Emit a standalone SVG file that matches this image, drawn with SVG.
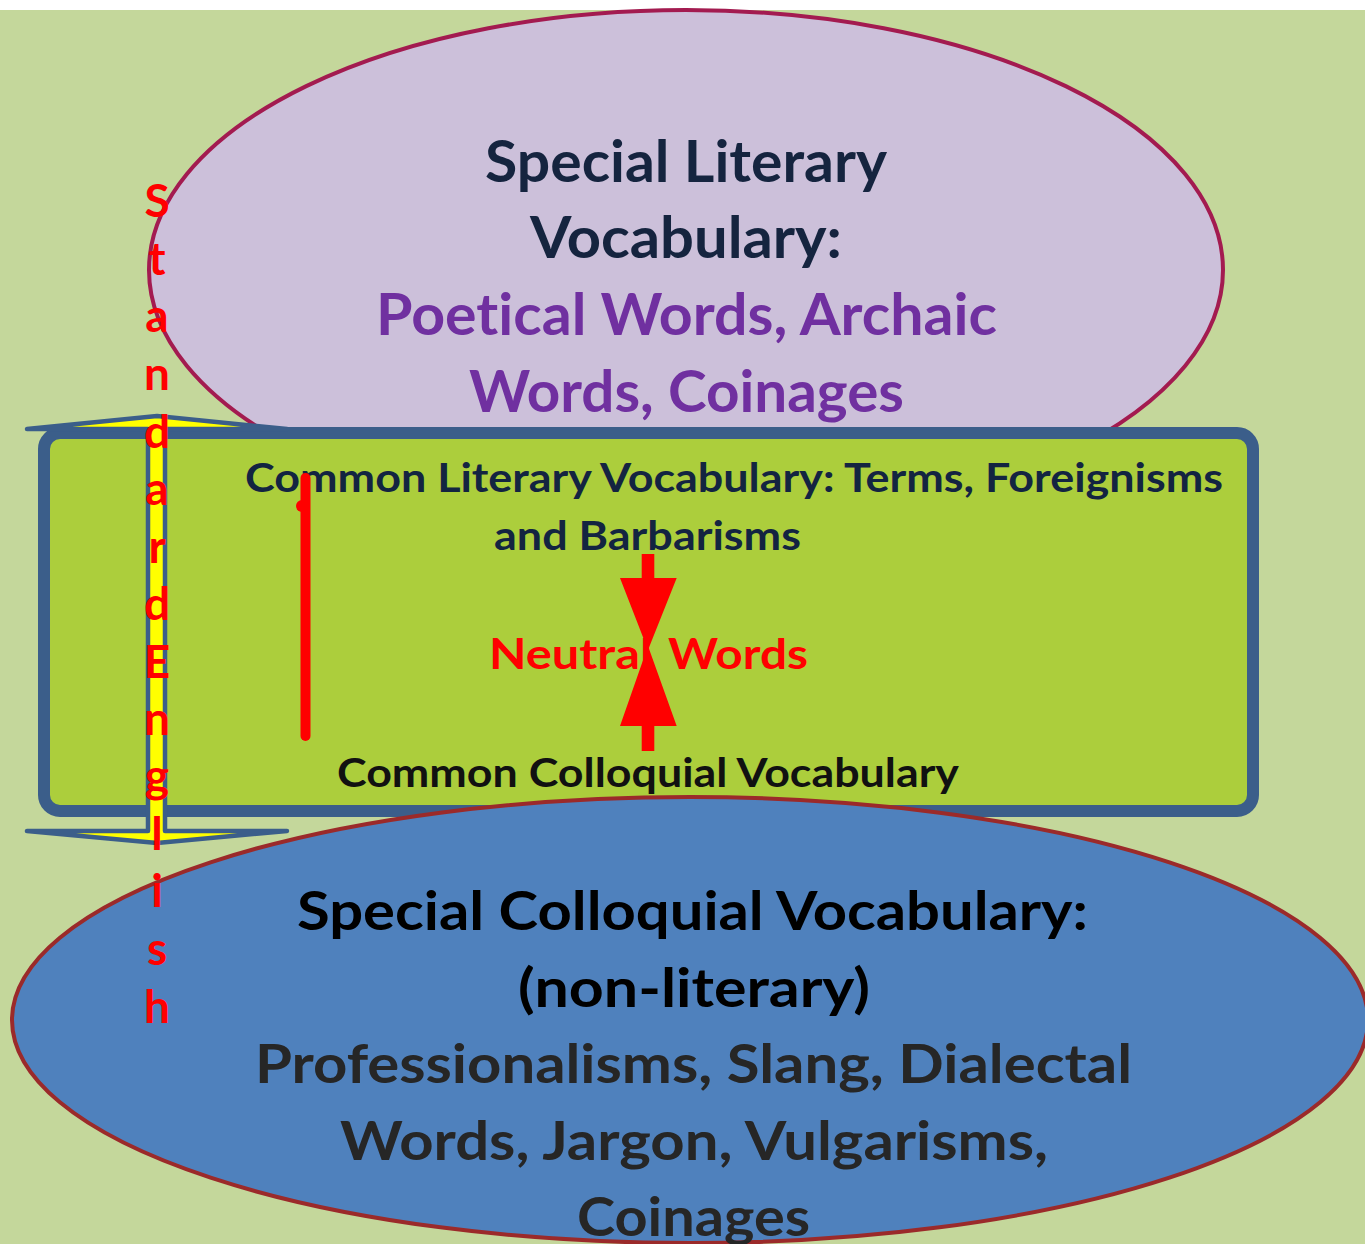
<svg xmlns="http://www.w3.org/2000/svg" width="1365" height="1244" viewBox="0 0 1365 1244">
<style>
text{font-family:Lato,"Open Sans","Liberation Sans",sans-serif;font-weight:700;font-variant-ligatures:none}
.t1{font-size:57px;fill:#15243f}
.t2{font-size:57px;fill:#7030a0}
.r1{font-size:40px;fill:#132441}
.r2{font-size:40px;fill:#111111}
.nw{font-size:42px;fill:#ff0000}
.b1{font-size:54px;fill:#000000}
.b2{font-size:54px;fill:#262626}
.vt{font-size:46px;fill:#ff0000;text-anchor:middle}
</style>
<rect x="0" y="0" width="1365" height="1244" fill="#ffffff"/>
<rect x="0" y="10" width="1365" height="1234" fill="#c4d79b"/>
<g id="special-literary">
<ellipse cx="686" cy="270" rx="537" ry="260" fill="#ccc0da" stroke="#a31b50" stroke-width="4"/>
<text class="t1" x="485" y="182" textLength="402" lengthAdjust="spacingAndGlyphs">Special Literary</text>
<text class="t1" x="530" y="258" textLength="312" lengthAdjust="spacingAndGlyphs">Vocabulary:</text>
<text class="t2" x="376" y="335" textLength="621" lengthAdjust="spacingAndGlyphs">Poetical Words, Archaic</text>
<text class="t2" x="469" y="412" textLength="435" lengthAdjust="spacingAndGlyphs">Words, Coinages</text>
</g>
<g id="common-box">
<rect x="44" y="433" width="1209" height="378" rx="16" ry="16" fill="#acce3c" stroke="#3b5e8a" stroke-width="12"/>
<text class="r1" x="245" y="492" textLength="978" lengthAdjust="spacingAndGlyphs">Common Literary Vocabulary: Terms, Foreignisms</text>
<text class="r1" x="494" y="550" textLength="307" lengthAdjust="spacingAndGlyphs">and Barbarisms</text>
<text class="r2" x="337" y="787" textLength="622" lengthAdjust="spacingAndGlyphs">Common Colloquial Vocabulary</text>
</g>
<g id="connectors">
<path d="M157,416 L287,429 L165,429 L165,831 L287,831 L157,843 L27,831 L148,831 L148,429 L27,429 Z" fill="#ffff00" stroke="#3b5e8a" stroke-width="4.5" stroke-linejoin="round"/>
<line x1="305.5" y1="478" x2="305.5" y2="736" stroke="#ff0000" stroke-width="10" stroke-linecap="round"/>
<circle cx="302" cy="506" r="6" fill="#ff0000"/>
<path d="M641.7,554 L654.3,554 L654.3,578 L676.7,578 L648,650 L620,578 L641.7,578 Z" fill="#ff0000"/>
<path d="M641.7,751 L654.3,751 L654.3,726 L676.7,726 L648,646 L620,726 L641.7,726 Z" fill="#ff0000"/>
</g>
<g id="neutral-words">
<text class="nw" y="669"><tspan x="489" textLength="163" lengthAdjust="spacingAndGlyphs">Neutral</tspan> <tspan x="668" textLength="140" lengthAdjust="spacingAndGlyphs">Words</tspan></text>
</g>
<g id="special-colloquial">
<ellipse cx="690" cy="1020" rx="678" ry="223" fill="#4f81bd" stroke="#9b2a2a" stroke-width="4"/>
<text class="b1" x="297" y="930" textLength="791" lengthAdjust="spacingAndGlyphs">Special Colloquial Vocabulary:</text>
<text class="b1" x="518" y="1007" textLength="352" lengthAdjust="spacingAndGlyphs">(non-literary)</text>
<text class="b2" x="255" y="1083" textLength="877" lengthAdjust="spacingAndGlyphs">Professionalisms, Slang, Dialectal</text>
<text class="b2" x="340" y="1160" textLength="708" lengthAdjust="spacingAndGlyphs">Words, Jargon, Vulgarisms,</text>
<text class="b2" x="577" y="1236" textLength="233" lengthAdjust="spacingAndGlyphs">Coinages</text>
</g>
<g id="standard-english">
<text class="vt"><tspan x="157" y="217">S</tspan><tspan x="157" y="275">t</tspan><tspan x="157" y="332">a</tspan><tspan x="157" y="390">n</tspan><tspan x="157" y="448">d</tspan><tspan x="157" y="505">a</tspan><tspan x="157" y="563">r</tspan><tspan x="157" y="620">d</tspan><tspan x="157" y="678">E</tspan><tspan x="157" y="735">n</tspan><tspan x="157" y="792">g</tspan><tspan x="157" y="850">l</tspan><tspan x="157" y="907">i</tspan><tspan x="157" y="965">s</tspan><tspan x="157" y="1023">h</tspan></text>
</g>
</svg>
